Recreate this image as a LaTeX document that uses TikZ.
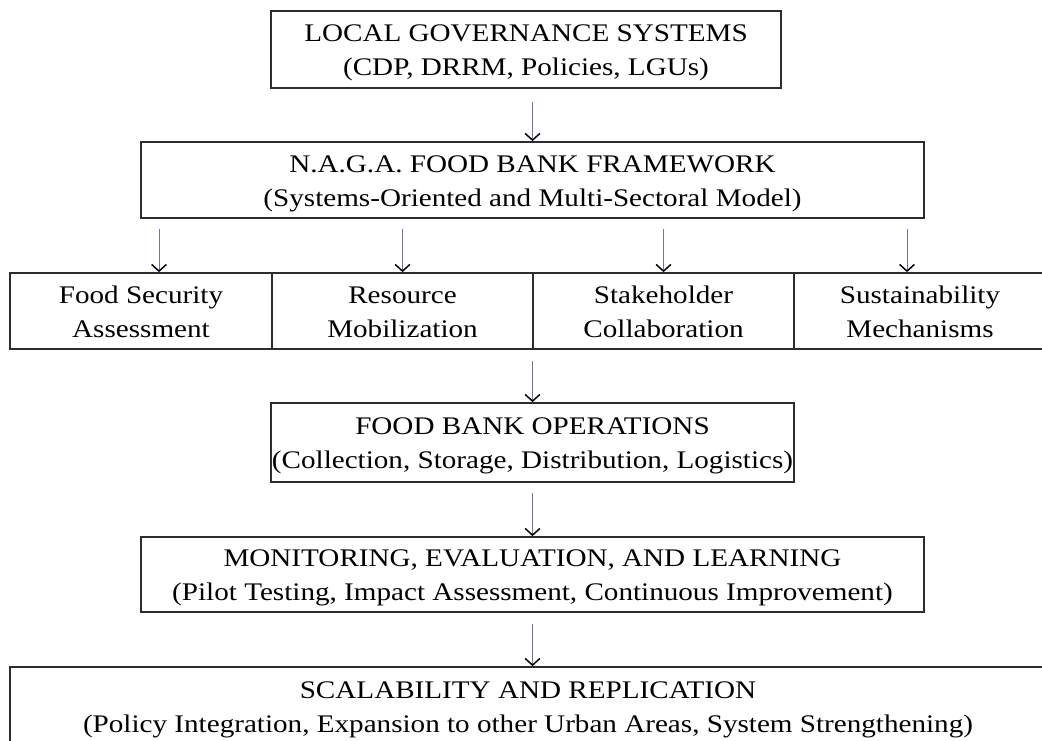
\documentclass[tikz,border=0pt]{standalone}
\usepackage{fontspec}
\setmainfont{Liberation Serif}[FakeStretch=1.15]
\usetikzlibrary{arrows.meta}
\definecolor{boxline}{RGB}{45,45,45}
\definecolor{shaft}{RGB}{115,115,160}
\newcommand{\twolines}[2]{\strut #1\\\strut #2}
\begin{document}
\begin{tikzpicture}[x=0.75pt,y=-0.75pt,
  box/.style={draw=boxline, line width=1.3pt, inner sep=0pt},
  txt/.style={inner sep=0pt, align=center, yshift=-2pt,
    font=\fontsize{19}{25.5}\selectfont},
  arr/.style={draw=shaft, line width=0.7pt,
    -{Straight Barb[length=5pt,width=11pt,line width=1.1pt,color=black]}}]
\useasboundingbox (0,0) rectangle (1042,740);
\fill[white] (0,0) rectangle (1042,740);

\node[box, minimum width=382.5pt, minimum height=57.75pt] (b1) at (526,49.5) {};
\node[txt] (t1) at (b1) {\twolines{LOCAL GOVERNANCE SYSTEMS}{(CDP, DRRM, Policies, LGUs)}};
\node[box, minimum width=587.25pt, minimum height=57pt] (b2) at (532.5,180) {};
\node[txt] (t2) at (b2) {\twolines{N.A.G.A. FOOD BANK FRAMEWORK}{(Systems-Oriented and Multi-Sectoral Model)}};

\node[box, minimum width=196.5pt, minimum height=57pt] (c1) at (141,311) {};
\node[txt] (u1) at (c1) {\twolines{Food Security}{Assessment}};
\node[box, minimum width=195.75pt, minimum height=57pt] (c2) at (402.5,311) {};
\node[txt] (u2) at (c2) {\twolines{Resource}{Mobilization}};
\node[box, minimum width=195.75pt, minimum height=57pt] (c3) at (663.5,311) {};
\node[txt] (u3) at (c3) {\twolines{Stakeholder}{Collaboration}};
\node[box, minimum width=189pt, minimum height=57pt] (c4) at (920,311) {};
\node[txt] (u4) at (c4) {\twolines{Sustainability}{Mechanisms}};

\node[box, minimum width=392.25pt, minimum height=59.25pt] (b4) at (532.5,442.5) {};
\node[txt] (t4) at (b4) {\twolines{FOOD BANK OPERATIONS}{(Collection, Storage, Distribution, Logistics)}};
\node[box, minimum width=587.25pt, minimum height=56.25pt] (b5) at (532.5,574.5) {};
\node[txt] (t5) at (b5) {\twolines{MONITORING, EVALUATION, AND LEARNING}{(Pilot Testing, Impact Assessment, Continuous Improvement)}};
\node[box, minimum width=777pt, minimum height=58.5pt] (b6) at (528,706) {};
\node[txt] (t6) at (b6) {\twolines{SCALABILITY AND REPLICATION}{(Policy Integration, Expansion to other Urban Areas, System Strengthening)}};

\draw[arr, shorten <=9.75pt] (b1.south -| b2.north) -- (b2.north);
\draw[arr, shorten <=7.5pt] ([xshift=13.5pt]b2.south -| c1.north) -- ([xshift=13.5pt]c1.north);
\draw[arr, shorten <=7.5pt] (b2.south -| c2.north) -- (c2.north);
\draw[arr, shorten <=7.5pt] (b2.south -| c3.north) -- (c3.north);
\draw[arr, shorten <=7.5pt] ([xshift=-9.75pt]b2.south -| c4.north) -- ([xshift=-9.75pt]c4.north);
\draw[arr, shorten <=8.25pt] (c2.south -| b4.north) -- (b4.north);
\draw[arr, shorten <=7.5pt] (b4.south) -- (b5.north);
\draw[arr, shorten <=8.25pt] (b5.south) -- (b5.south |- b6.north);
\end{tikzpicture}
\end{document}
